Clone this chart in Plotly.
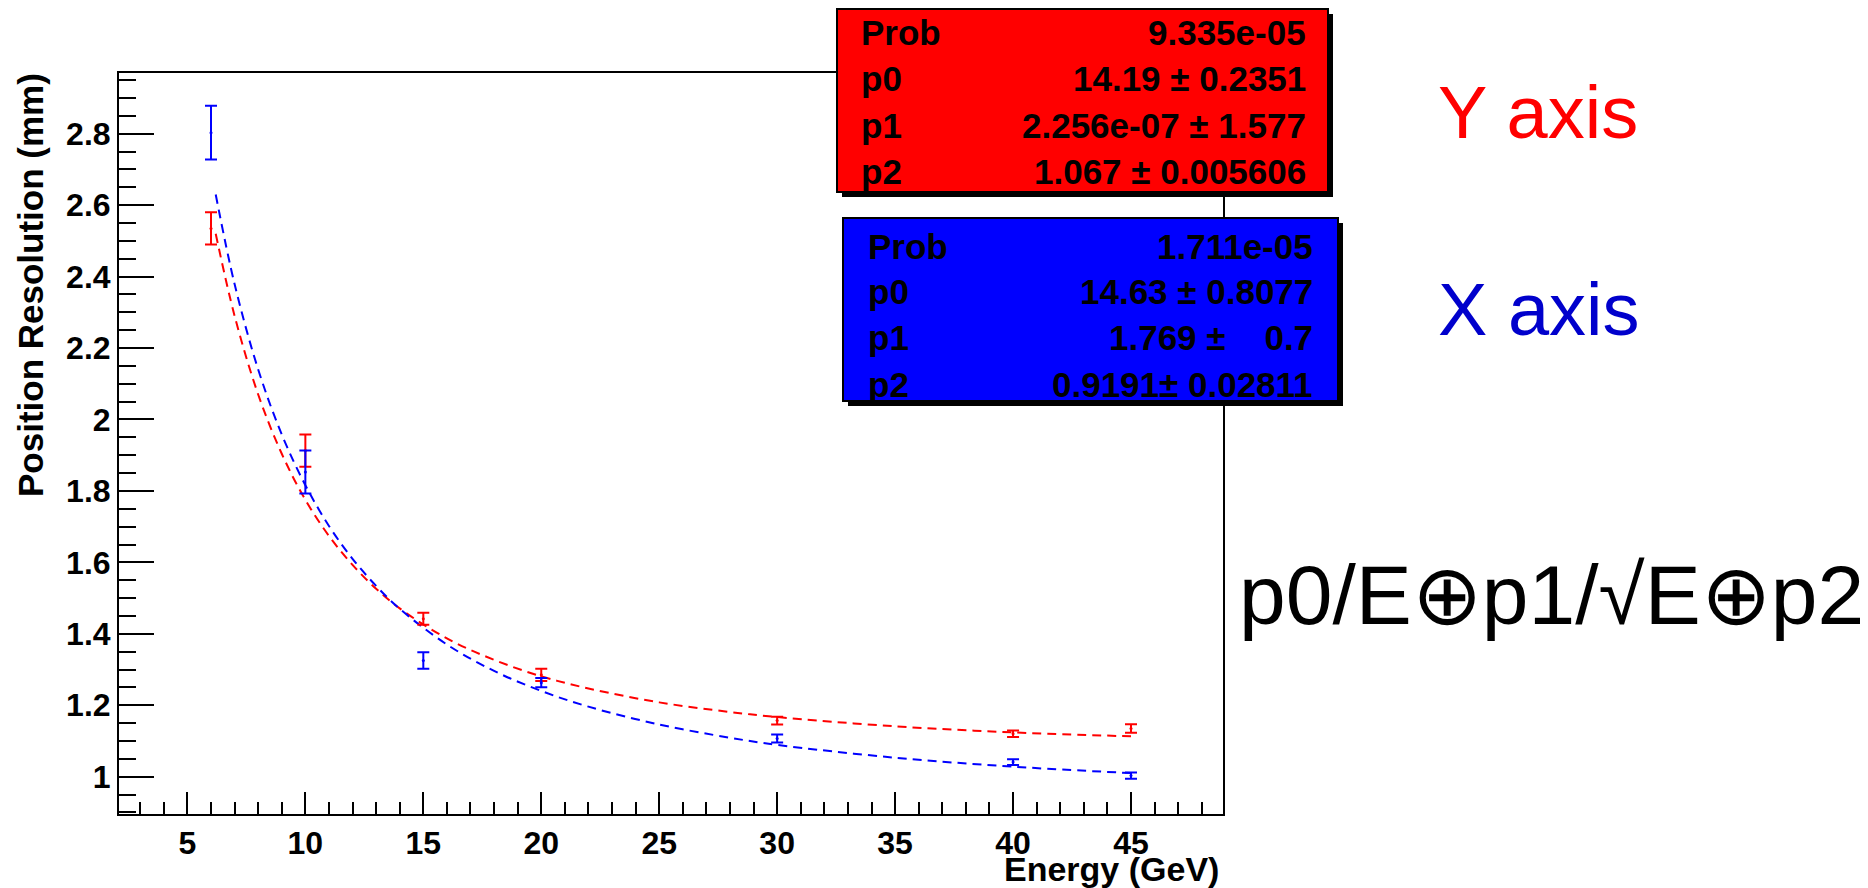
import plotly.graph_objects as go

# ---------------- data ----------------
energy = [6, 10, 15, 20, 30, 40, 45]

res_y = [2.535, 1.913, 1.442, 1.285, 1.157, 1.120, 1.135]      # red, "Y axis"
err_y = [0.045, 0.045, 0.017, 0.017, 0.011, 0.009, 0.012]

res_x = [2.803, 1.853, 1.325, 1.263, 1.107, 1.041, 1.003]      # blue, "X axis"
err_x = [0.075, 0.060, 0.023, 0.013, 0.011, 0.008, 0.009]

fit_e = [6.2, 7, 8, 9, 10, 11, 12, 13, 14, 16, 18, 20, 22, 25, 28, 30, 35, 40, 45]
fit_y = [2.52, 2.29, 2.07, 1.904, 1.775, 1.674, 1.593, 1.526, 1.471, 1.387, 1.327,
         1.281, 1.247, 1.208, 1.181, 1.167, 1.141, 1.124, 1.113]
fit_x = [2.63, 2.379, 2.14, 1.958, 1.816, 1.702, 1.61, 1.534, 1.47, 1.37, 1.296,
         1.24, 1.196, 1.146, 1.109, 1.089, 1.053, 1.028, 1.01]

x_ticks = [5, 10, 15, 20, 25, 30, 35, 40, 45]
x_tick_labels = ["5", "10", "15", "20", "25", "30", "35", "40", "45"]
y_ticks = [1.0, 1.2, 1.4, 1.6, 1.8, 2.0, 2.2, 2.4, 2.6, 2.8]
y_tick_labels = ["1", "1.2", "1.4", "1.6", "1.8", "2", "2.2", "2.4", "2.6", "2.8"]

stats_y_names = ["Prob", "p0", "p1", "p2"]
stats_y_vals = ["9.335e-05", "14.19 \u00b1 0.2351", "2.256e-07 \u00b1 1.577", "1.067 \u00b1 0.005606"]
stats_x_names = ["Prob", "p0", "p1", "p2"]
stats_x_vals = ["1.711e-05", "14.63 \u00b1 0.8077", "1.769 \u00b1\u00a0\u00a0\u00a0 0.7", "0.9191\u00b1 0.02811"]

# ---------------- layout geometry (pixels of the page) ----------------
OFF = 8                      # the page body margin shifts the figure by 8 px
W, H = 1868 - OFF, 888 - OFF
PL, PR, PT, PB = 119, 1223, 73, 814


def px(x):
    return (x - PL) / (PR - PL)


def py(y):
    return (PB - y) / (PB - PT)


RED = "#ff0000"
BLUE = "#0000ff"
BOLD = dict(family="Liberation Sans, Arial, Helvetica, sans-serif", weight="bold", color="black")

fig = go.Figure()

fig.add_trace(go.Scatter(x=fit_e, y=fit_y, mode="lines", line=dict(color=RED, width=2, dash="9px,6px", shape="spline"),
                         hoverinfo="skip", showlegend=False))
fig.add_trace(go.Scatter(x=fit_e, y=fit_x, mode="lines", line=dict(color=BLUE, width=2, dash="9px,6px", shape="spline"),
                         hoverinfo="skip", showlegend=False))
fig.add_trace(go.Scatter(x=energy, y=res_y, mode="markers", marker=dict(color=RED, size=3),
                         error_y=dict(type="data", array=err_y, color=RED, thickness=2, width=6), showlegend=False))
fig.add_trace(go.Scatter(x=energy, y=res_x, mode="markers", marker=dict(color=BLUE, size=3),
                         error_y=dict(type="data", array=err_x, color=BLUE, thickness=2, width=6), showlegend=False))

fig.update_xaxes(range=[2.1, 48.9], tickmode="array", tickvals=x_ticks, ticktext=x_tick_labels,
                 ticks="inside", ticklen=22, tickwidth=2, tickcolor="black",
                 minor=dict(tickmode="linear", tick0=0, dtick=1, ticks="inside", ticklen=12, tickwidth=2, tickcolor="black"),
                 showline=True, linewidth=2, linecolor="black", mirror=True,
                 showgrid=False, zeroline=False, tickfont=dict(BOLD, size=32))
fig.update_yaxes(range=[0.8955, 2.970], tickmode="array", tickvals=y_ticks, ticktext=y_tick_labels,
                 ticks="inside", ticklen=35, tickwidth=2, tickcolor="black",
                 minor=dict(tickmode="linear", tick0=0, dtick=0.05, ticks="inside", ticklen=17, tickwidth=2, tickcolor="black"),
                 showline=True, linewidth=2, linecolor="black", mirror=True,
                 showgrid=False, zeroline=False, tickfont=dict(BOLD, size=32))

shapes = []
ann = []

# axis titles
ann.append(dict(text="Energy (GeV)", x=px(1221), y=py(869), xanchor="right", yanchor="middle",
                font=dict(BOLD, size=34)))
ann.append(dict(text="Position Resolution (mm)", x=px(30), y=py(71), xanchor="center", yanchor="top",
                textangle=-90, font=dict(BOLD, size=35)))


def stat_box(l, t, r, b, fill, names, vals, name_x, val_x, rows):
    shapes.append(dict(type="rect", x0=px(l + 5), x1=px(r + 5), y0=py(b + 5), y1=py(t + 5),
                       fillcolor="black", line=dict(width=0), layer="above"))
    shapes.append(dict(type="rect", x0=px(l), x1=px(r), y0=py(b), y1=py(t),
                       fillcolor=fill, line=dict(color="black", width=2), layer="above"))
    for n, v, yy in zip(names, vals, rows):
        ann.append(dict(text=n, x=px(name_x), y=py(yy), xanchor="left", yanchor="middle",
                        font=dict(BOLD, size=35)))
        ann.append(dict(text=v, x=px(val_x), y=py(yy), xanchor="right", yanchor="middle",
                        font=dict(BOLD, size=35)))


stat_box(837, 9, 1328, 192, RED, stats_y_names, stats_y_vals, 859, 1308, [32, 79, 125, 171])
stat_box(843, 218, 1338, 401, BLUE, stats_x_names, stats_x_vals, 866, 1315, [246, 291, 337, 384])

NORMAL = "Liberation Sans, Arial, Helvetica, sans-serif"
ann.append(dict(text="Y axis", x=px(1436), y=py(113), xanchor="left", yanchor="middle",
                font=dict(family=NORMAL, size=74, color=RED)))
ann.append(dict(text="X axis", x=px(1436), y=py(309), xanchor="left", yanchor="middle",
                font=dict(family=NORMAL, size=74, color="#0000cc")))
ann.append(dict(text="p0/E\u2295p1/\u221aE\u2295p2", x=px(1237), y=py(595), xanchor="left", yanchor="middle",
                font=dict(family=NORMAL, size=84, color="black")))

for a in ann:
    a.update(xref="paper", yref="paper", showarrow=False)
for s in shapes:
    s.update(xref="paper", yref="paper")

fig.update_layout(width=W, height=H,
                  margin=dict(l=PL - OFF, r=W - (PR - OFF), t=PT - OFF, b=H - (PB - OFF), pad=0),
                  paper_bgcolor="white", plot_bgcolor="white", shapes=shapes, annotations=ann,
                  showlegend=False)

fig.write_html("out.html")
